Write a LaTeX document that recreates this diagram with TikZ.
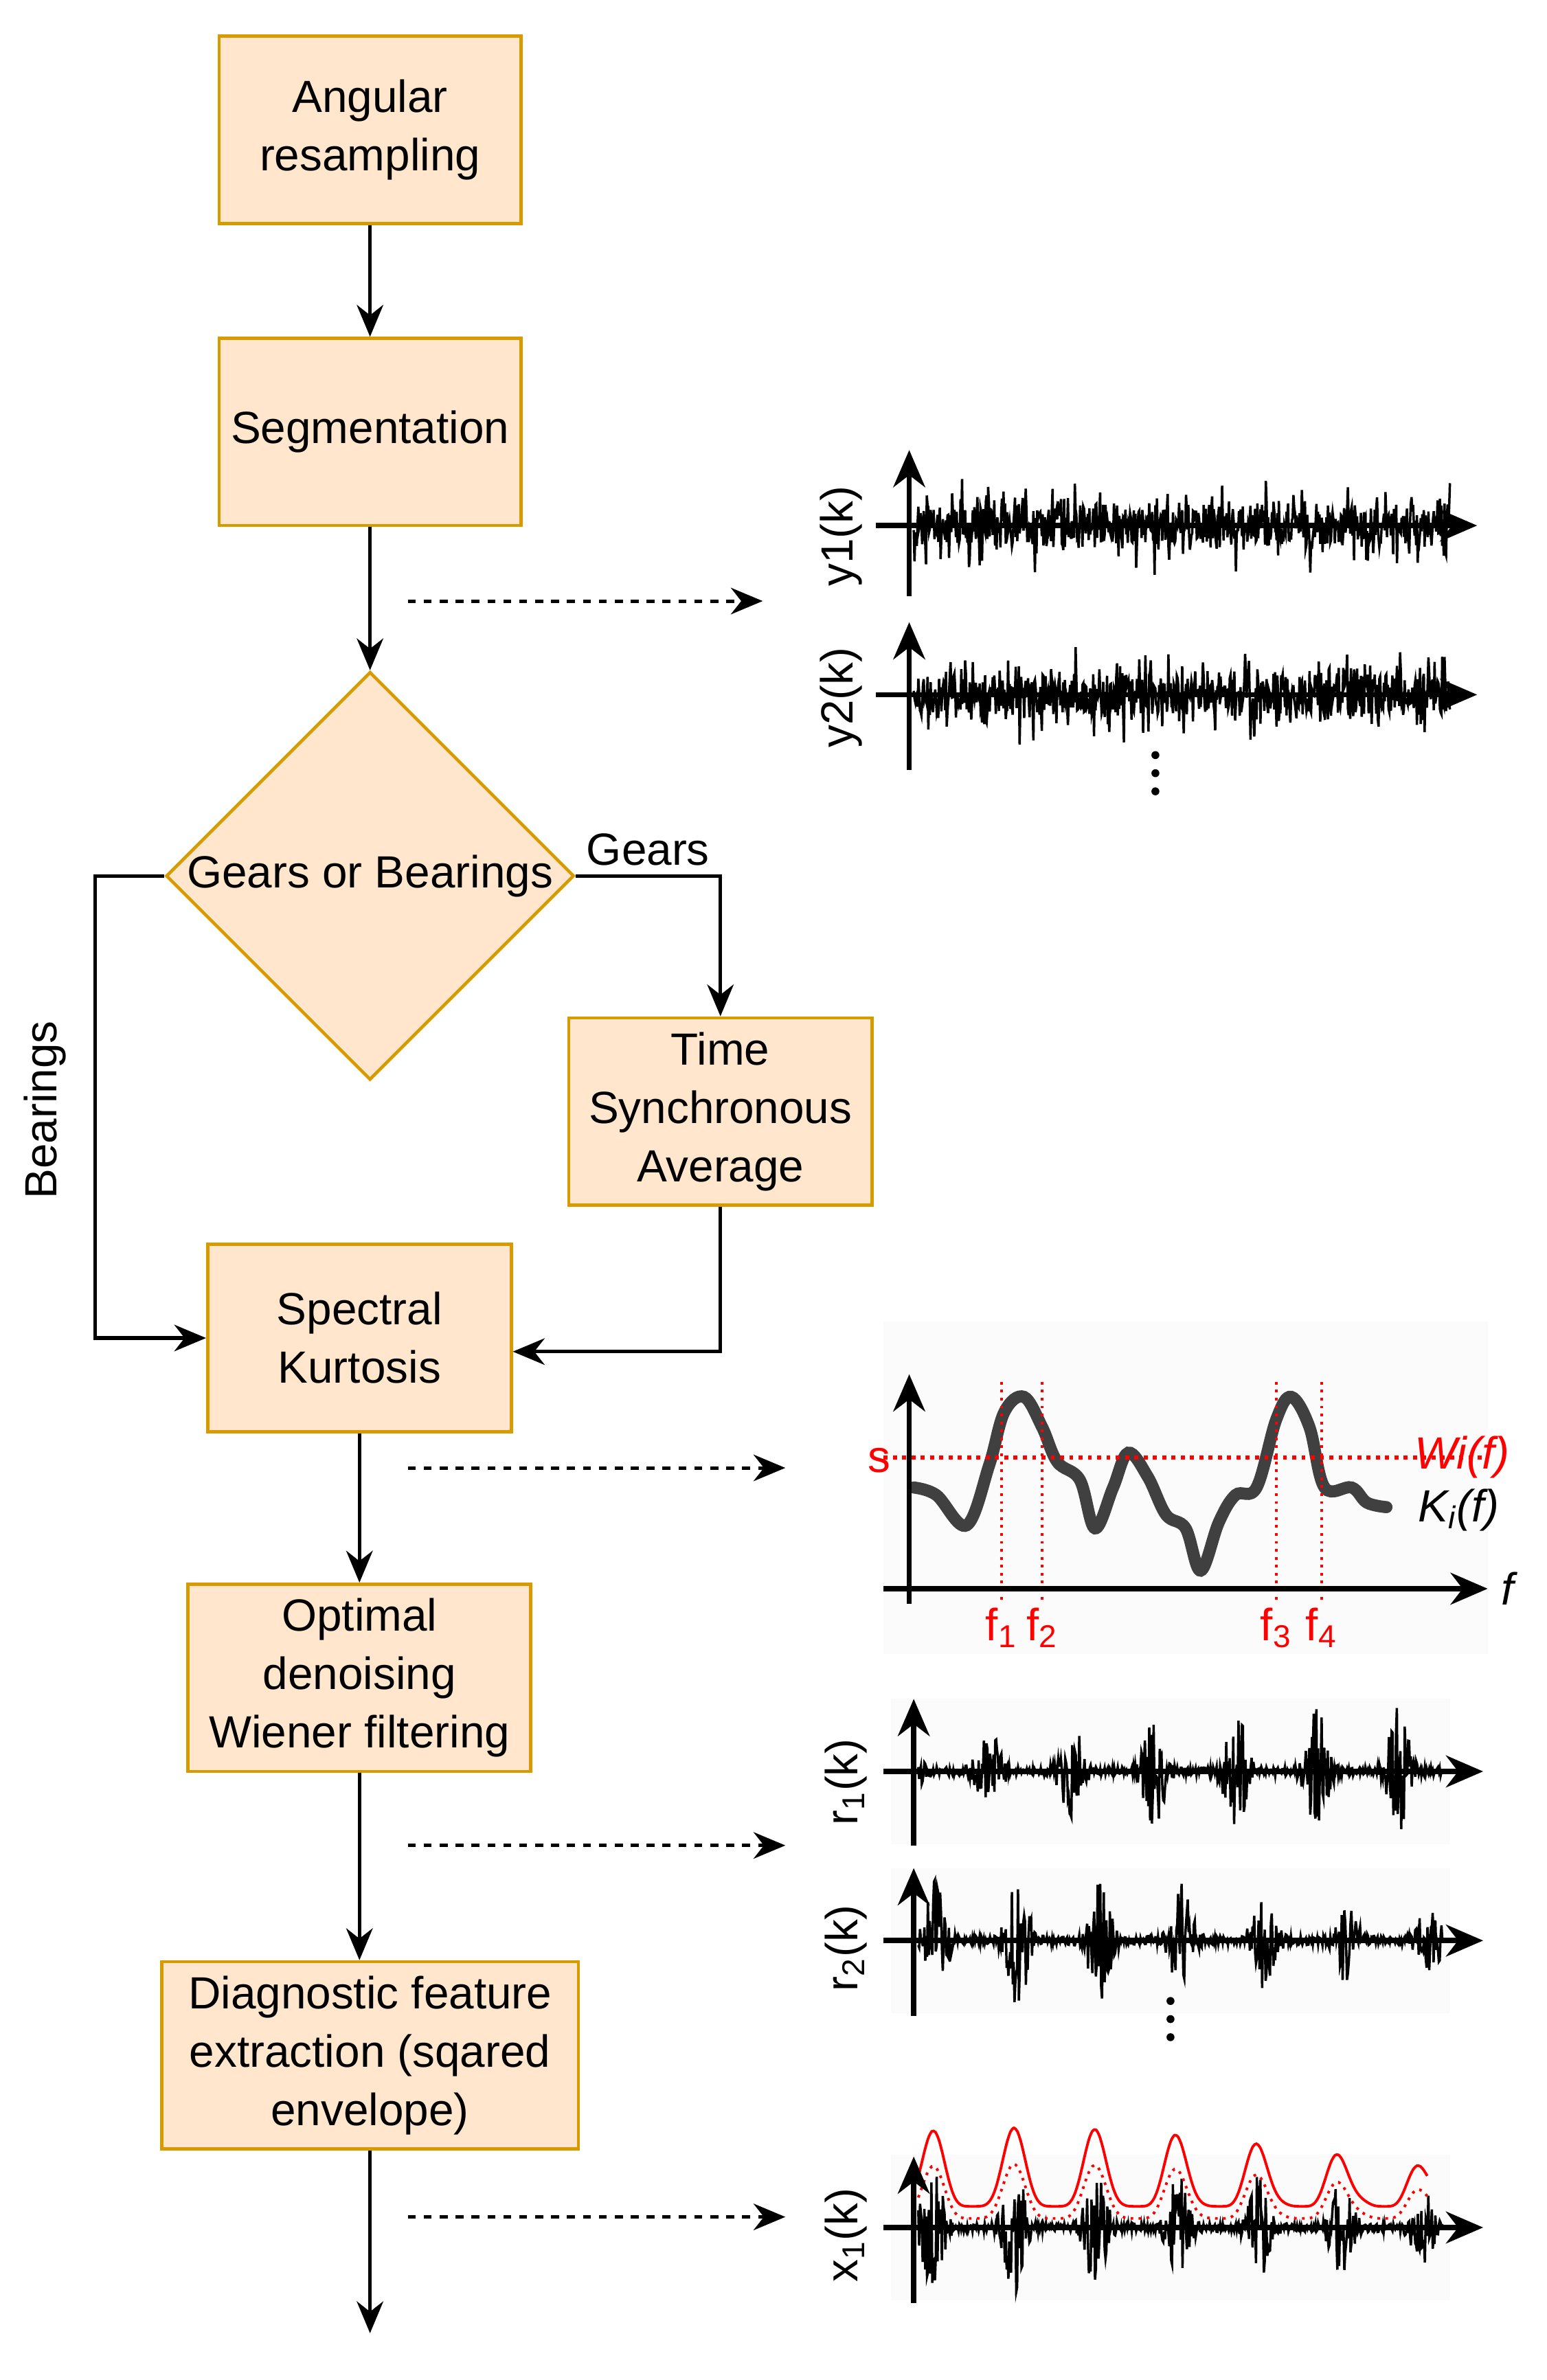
\documentclass[tikz,border=0pt]{standalone}
\usepackage{fontspec}
\setmainfont{Liberation Sans}
\usetikzlibrary{shapes.geometric,arrows.meta}
\definecolor{bfill}{HTML}{FFE6CC}
\definecolor{bdraw}{HTML}{D79B00}
\begin{document}
\begin{tikzpicture}[x=0.02cm,y=-0.02cm,
  box/.style={draw=bdraw,fill=bfill,line width=1.2pt,minimum height=2.48cm,align=center,font=\fontsize{17}{22}\selectfont},
  arr/.style={-{Stealth[length=12pt,width=10pt]},line width=1.3pt},
  darr/.style={arr,dashed},
  ax/.style={-{Stealth[length=14pt,width=12pt]},line width=2pt},
  lab/.style={font=\fontsize{17}{20}\selectfont},
  dot/.style={circle,fill,inner sep=0pt,minimum size=3pt}]
\useasboundingbox (0,0) rectangle (1024,1576);
\node[box,minimum width=4cm] (a) at (245,86) {Angular\\resampling};
\node[box,minimum width=4cm] (s) at (245,286) {Segmentation};
\node[draw=bdraw,fill=bfill,line width=1.2pt,diamond,minimum width=5.24cm,minimum height=5.24cm,inner sep=0pt,font=\fontsize{17}{22}\selectfont] (d) at (245,580) {Gears or Bearings};
\node[box,minimum width=4.02cm] (t) at (477,736) {Time\\Synchronous\\Average};
\node[box,minimum width=4.02cm] (k) at (238,886) {Spectral\\Kurtosis};
\node[box,minimum width=4.54cm] (o) at (238,1111) {Optimal\\denoising\\Wiener filtering};
\node[box,minimum width=5.52cm] (g) at (245,1361) {Diagnostic feature\\extraction (sqared\\envelope)};
\coordinate (e) at (245,1545);
\draw[arr] (a) -- (s);
\draw[arr] (s) -- (d);
\draw[arr] (d.east) -| node[pos=0.25,above,lab]{Gears} (t.north);
\draw[arr] (d.west) -- (63,580) |- (k.west);
\node[lab,rotate=90] at (30,735) {Bearings};
\draw[arr] (t.south) |- ([yshift=-0.18cm]k.east);
\draw[arr] (k) -- (o);
\draw[arr] (o.south) -- (g.north -| o.south);
\draw[arr] (g) -- (e);
\coordinate (d1) at (270,398); \coordinate (d1e) at (505,398);
\coordinate (d2) at (270,972); \coordinate (d2e) at (520,972);
\coordinate (d3) at (270,1222); \coordinate (d3e) at (520,1222);
\coordinate (d4) at (270,1468); \coordinate (d4e) at (520,1468);
\draw[darr] (d1) -- (d1e);\draw[darr] (d2) -- (d2e);\draw[darr] (d3) -- (d3e);\draw[darr] (d4) -- (d4e);
% y signals
\pgfmathsetseed{7}
\draw[line width=0.9pt] plot[domain=605:960,samples=700] (\x,{348+rand*(12+22*abs(rand)^3)});
\draw[line width=0.9pt] plot[domain=605:960,samples=700] (\x,{460+rand*(12+22*abs(rand)^3)});
\draw[ax] (602,395) -- (602,298);
\draw[ax] (580,348) -- (978,348);
\draw[ax] (602,510) -- (602,412);
\draw[ax] (580,460) -- (978,460);
\node[lab,rotate=90] at (557,355) {y1(k)};
\node[lab,rotate=90] at (557,462) {y2(k)};
\foreach \yy in {500,512,524} \node[dot] at (765,\yy) {};
% spectral
\fill[gray!3] (585,875) rectangle (985,1095);
\draw[line width=0.16cm,black!75,line cap=round] plot[smooth,tension=0.6] coordinates{(605,985)(620,990)(640,1010)(655,970)(665,935)(678,925)(690,945)(700,968)(715,980)(725,1012)(737,985)(747,962)(760,978)(772,1003)(785,1012)(795,1040)(807,1008)(818,990)(832,985)(845,940)(855,925)(867,945)(877,985)(895,985)(905,995)(918,998)};
\draw[red,dotted,line width=1.5pt] (585,965) -- (985,965);
\foreach \xx in {663,690,845,875} \draw[red,dotted,line width=1pt] (\xx,915) -- (\xx,1060);
\draw[ax] (602,1062) -- (602,910);
\draw[ax] (585,1052) -- (985,1052);
\node[lab,red] at (582,967) {s};
\node[lab,red] at (968,965) {\itshape Wi(f)};
\node[lab] at (966,1000) {\itshape K\textsubscript{i}(f)};
\node[lab] at (998,1052) {\itshape f};
\node[lab,red] at (663,1078) {f\textsubscript{1}};
\node[lab,red] at (690,1078) {f\textsubscript{2}};
\node[lab,red] at (845,1078) {f\textsubscript{3}};
\node[lab,red] at (875,1078) {f\textsubscript{4}};
% r signals
\foreach \yy in {1173,1285,1475}{
\fill[gray!3] (590,\yy-48) rectangle (960,\yy+48);
\draw[line width=0.9pt] plot[domain=608:955,samples=600] (\x,{\yy+rand*(3+(30+12*sin(\x*7.1))*abs(sin(\x*3.3+\yy))^8)});
}
\draw[red,line width=1pt] plot[domain=608:945,samples=150,smooth] (\x,{1475-(14+(34+18*sin(\x*7.1))*abs(sin(\x*3.3+1475))^4)});
\draw[red,dotted,line width=1pt] plot[domain=608:945,samples=150,smooth] (\x,{1475-(6+(24+12*sin(\x*7.1))*abs(sin(\x*3.3+1475))^4)});
\draw[ax] (605,1222) -- (605,1125);
\draw[ax] (585,1173) -- (982,1173);
\draw[ax] (605,1335) -- (605,1237);
\draw[ax] (585,1285) -- (982,1285);
\draw[ax] (605,1525) -- (605,1428);
\draw[ax] (585,1475) -- (982,1475);
\node[lab,rotate=90] at (560,1180) {r\textsubscript{1}(k)};
\node[lab,rotate=90] at (560,1290) {r\textsubscript{2}(k)};
\node[lab,rotate=90] at (560,1480) {x\textsubscript{1}(k)};
\foreach \yy in {1325,1337,1349} \node[dot] at (775,\yy) {};
\end{tikzpicture}
\end{document}
